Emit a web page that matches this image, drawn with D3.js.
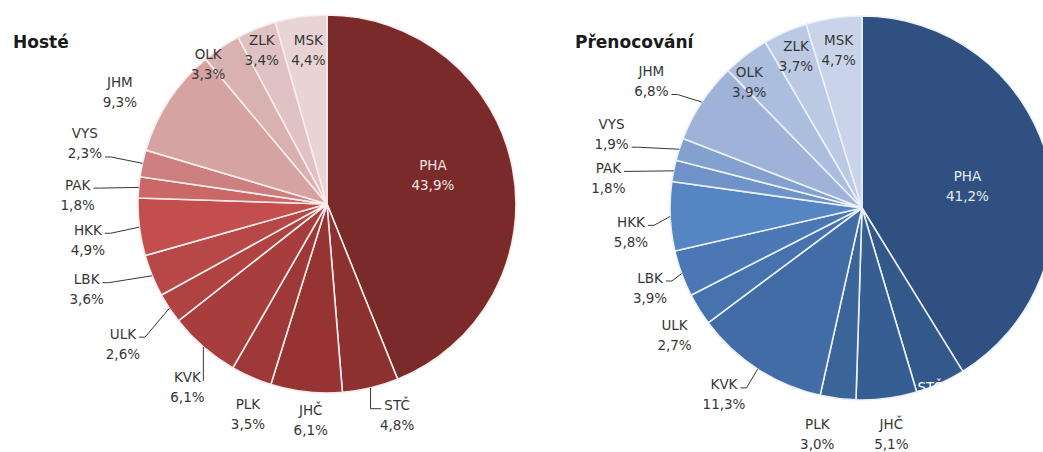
<!DOCTYPE html>
<html>
<head>
<meta charset="utf-8">
<script src="https://cdn.jsdelivr.net/npm/d3@7"></script>
<style>
  body { margin: 0; background: #fff; }
  svg { display: block; font-family: "DejaVu Sans", Verdana, sans-serif; }
  .lbl { font-size: 13.5px; fill: #363636; }
  .title { font-size: 17px; font-weight: bold; fill: #1a1a1a; }
  .leader { fill: none; stroke: #363636; stroke-width: 1; }
</style>
</head>
<body>
<svg width="1043" height="452"></svg>
<script>
// regions, clockwise from 12 o'clock
var regions = ["PHA", "STČ", "JHČ", "PLK", "KVK", "ULK", "LBK", "HKK", "PAK", "VYS", "JHM", "OLK", "ZLK", "MSK"];

// share in %
var hosteValues = [43.9, 4.8, 6.1, 3.5, 6.1, 2.6, 3.6, 4.9, 1.8, 2.3, 9.3, 3.3, 3.4, 4.4];
var prenocovaniValues = [41.2, 4.2, 5.1, 3.0, 11.3, 2.7, 3.9, 5.8, 1.8, 1.9, 6.8, 3.9, 3.7, 4.7];

var hosteColors = ["#7b2a2a", "#8c3030", "#963434", "#9f3838", "#a83d3d", "#b04242", "#b84747", "#c24e4d",
    "#c96867", "#cd7e7e", "#d6a3a3", "#dab1b1", "#e1c2c2", "#e9d4d4"];
var prenocovaniColors = ["#2f5080", "#33598b", "#375e92", "#3b6499", "#416ca6", "#4672ad", "#4b78b5", "#5585c3",
    "#6f92c8", "#83a0ce", "#9fb3d8", "#abbede", "#bbc9e3", "#c9d4ea"];

// label layout: radius factor, angle shift (deg), mode (in / out / edge), leader line (0 none, 1 first row, 2 second row)
var hosteLabelK = [0.58, 1.18, 1.15, 1.19, 1.22, 1.31, 1.35, 1.28, 1.32, 1.32, 1.245, 0.97, 0.885, 0.82];
var hosteLabelShift = [-4, -5, -2, -3, -3.6, -1, 2.7, -1.6, -3, 1.5, -5, -6.4, -1, 1];
var hosteLabelMode = ["in", "out", "out", "out", "out", "out", "out", "out", "out", "out", "out", "out", "out", "out"];
var hosteLeader = [0, 1, 0, 0, 1, 1, 1, 1, 1, 2, 0, 0, 0, 0];

var prenocovaniLabelK = [0.56, 1.0, 1.19, 1.2, 1.21, 1.18, 1.18, 1.21, 1.33, 1.36, 1.28, 0.88, 0.86, 0.83];
var prenocovaniLabelShift = [4.5, 3.3, 0, 4, 3.5, -2.3, -0.7, -3.5, -4.5, -1.4, -2.5, -4.6, 0, 0];
var prenocovaniLabelMode = ["in", "edge", "out", "out", "out", "out", "out", "out", "out", "out", "out", "out", "out", "out"];
var prenocovaniLeader = [0, 0, 0, 0, 1, 0, 1, 1, 1, 2, 2, 0, 0, 0];

var svg = d3.select("svg");
var fmt = d3.format(".1f");

function pct(v) {
    return fmt(v).replace(".", ",") + "%";
}

function drawPie(cfg) {
    var g = svg.append("g").attr("transform", "translate(" + cfg.cx + "," + cfg.cy + ")");
    var r = cfg.r;

    var pie = d3.pie().sort(null).value(function (d) { return d; });
    var arcs = pie(cfg.values);
    var arc = d3.arc().innerRadius(0).outerRadius(r);

    g.selectAll("path.slice")
        .data(arcs)
        .enter().append("path")
        .attr("class", "slice")
        .attr("d", arc)
        .style("fill", function (d, i) { return cfg.colors[i]; })
        .style("stroke", cfg.sep)
        .style("stroke-width", 1.6)
        .style("stroke-linejoin", "round");

    function polar(a, rad) {
        return [rad * Math.sin(a), -rad * Math.cos(a)];
    }

    arcs.forEach(function (d, i) {
        var mid = (d.startAngle + d.endAngle) / 2;
        var c = polar(mid + cfg.shift[i] * Math.PI / 180, r * cfg.k[i]);
        var mode = cfg.mode[i];
        var lg = g.append("g");

        var t1 = lg.append("text").attr("class", "lbl")
            .attr("x", c[0]).attr("y", c[1] - 10 + 4.5)
            .style("text-anchor", "middle")
            .text(cfg.names[i]);
        var t2 = null;
        if (mode != "edge") {
            t2 = lg.append("text").attr("class", "lbl")
                .attr("x", c[0]).attr("y", c[1] + 10 + 4.5)
                .style("text-anchor", "middle")
                .text(pct(cfg.values[i]));
        }
        if (mode == "in") {
            t1.style("fill", cfg.inColor);
            t2.style("fill", cfg.inColor);
        }
        if (mode == "edge") {
            t1.style("fill", "#ffffff").attr("y", c[1] + 4.5);
        }

        var row = cfg.leader[i];
        if (row) {
            var t = row == 1 ? t1 : t2;
            var hw = t.node().getComputedTextLength() / 2;
            var a = polar(mid, r);
            var left = c[0] < 0;
            var ex = left ? c[0] + hw + 3 : c[0] - hw - 3;
            var ey = c[1] + (row == 1 ? -10 : 10) + 3;
            var p = d3.path();
            p.moveTo(a[0], a[1]);
            if (Math.abs(ex - a[0]) < 12) {
                p.lineTo(a[0], ey);
            } else {
                p.lineTo(ex + (left ? 6 : -6), ey);
            }
            p.lineTo(ex, ey);
            lg.append("path").attr("class", "leader").attr("d", p.toString());
        }
    });
}

drawPie({
    cx: 327, cy: 204, r: 189,
    names: regions, values: hosteValues, colors: hosteColors,
    k: hosteLabelK, shift: hosteLabelShift, mode: hosteLabelMode, leader: hosteLeader,
    sep: "#fbecec", inColor: "#f3e4e4"
});

drawPie({
    cx: 862, cy: 208, r: 192,
    names: regions, values: prenocovaniValues, colors: prenocovaniColors,
    k: prenocovaniLabelK, shift: prenocovaniLabelShift, mode: prenocovaniLabelMode, leader: prenocovaniLeader,
    sep: "#eaf1fb", inColor: "#e6edf7"
});

svg.append("text").attr("class", "title").attr("x", 13).attr("y", 48).text("Hosté");
svg.append("text").attr("class", "title").attr("x", 575).attr("y", 48).text("Přenocování");
</script>
</body>
</html>
